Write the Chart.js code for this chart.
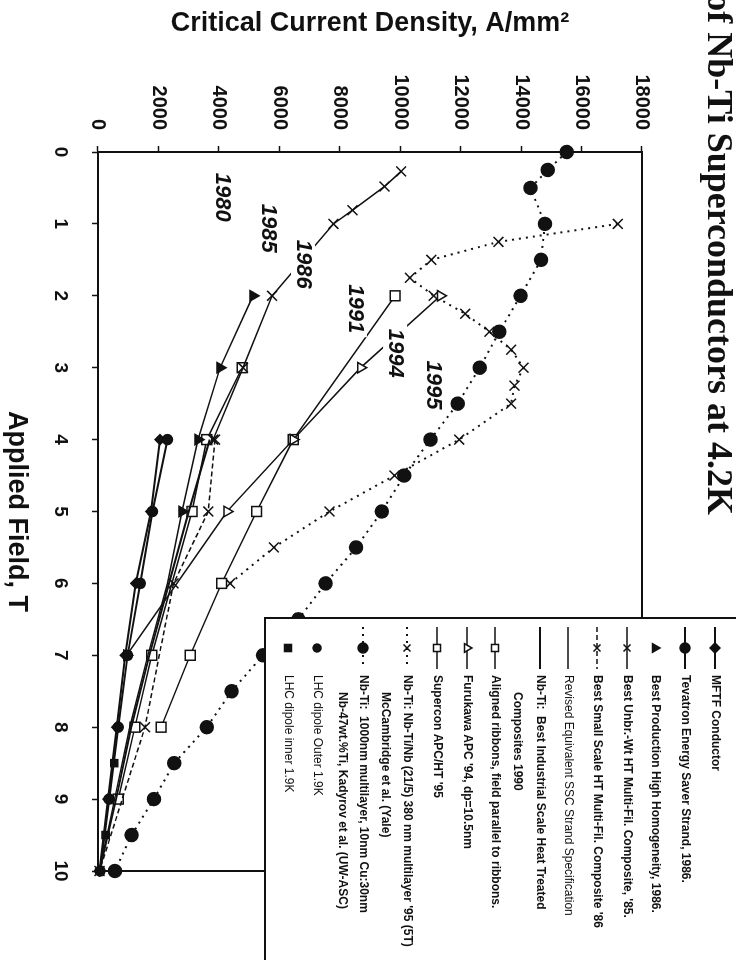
<!DOCTYPE html>
<html>
<head>
<meta charset="utf-8">
<title>Critical Current Density of Nb-Ti Superconductors at 4.2K</title>
<script src="https://cdn.jsdelivr.net/npm/chart.js@4.4.1/dist/chart.umd.min.js"></script>
<style>
  html, body { margin: 0; padding: 0; background: #fff; overflow: hidden; }
  /* the chart is drawn upright, then turned a quarter clockwise like the scan */
  #wrap { position: absolute; left: 0; top: 0; width: 960px; height: 736px;
          transform-origin: 0 0; transform: translate(736px, 0) rotate(90deg); }
</style>
</head>
<body>
<div id="wrap"><canvas id="chart" width="960" height="736"></canvas></div>
<script>
// ---- data (field in T, Jc in A/mm2) ----
var mftfB = [4, 5, 6, 7, 8, 9, 10];
var mftfJc = [2050, 1750, 1250, 900, 620, 330, 50];

var tevB = [4, 5, 6, 7, 8, 9, 10];
var tevJc = [2300, 1800, 1400, 980, 670, 370, 70];

var prodB = [2, 3, 4, 5];
var prodJc = [5130, 4040, 3310, 2780];

var unbrB = [0.27, 0.48, 0.81, 1, 2, 3, 4];
var unbrJc = [10030, 9480, 8420, 7790, 5760, 4800, 3810];

var smallB = [4, 5, 6, 8, 10];
var smallJc = [3870, 3650, 2500, 1555, 50];

var sscB = [2, 3, 4, 5, 6, 7, 8, 9, 10];
var sscJc = [5130, 4040, 3310, 2780, 2300, 1650, 1050, 550, 50];

var indB = [4, 5, 6, 7, 8, 9, 10];
var indJc = [3700, 3000, 2350, 1700, 1100, 600, 50];

var ribB = [3, 4, 5, 7, 8, 9];
var ribJc = [4770, 3600, 3110, 1780, 1220, 670];

var furB = [2, 3, 4, 5, 7];
var furJc = [11330, 8690, 6460, 4270, 950];

var supB = [2, 4, 5, 6, 7, 8];
var supJc = [9830, 6460, 5250, 4090, 3050, 2090];

var mccB = [1, 1.25, 1.5, 1.75, 2, 2.25, 2.5, 2.75, 3, 3.25, 3.5, 4, 4.5, 5, 5.5, 6];
var mccJc = [17200, 13250, 11030, 10320, 11110, 12150, 12950, 13670, 14080, 13780, 13670, 11950, 9810, 7660, 5820, 4370];

var kadB = [0, 0.25, 0.5, 1, 1.5, 2, 2.5, 3, 3.5, 4, 4.5, 5, 5.5, 6, 6.5, 7, 7.5, 8, 8.5, 9, 9.5, 10];
var kadJc = [15510, 14880, 14310, 14790, 14660, 13980, 13280, 12630, 11900, 11000, 10130, 9390, 8540, 7530, 6630, 5460, 4420, 3600, 2520, 1850, 1110, 560];

var lhcOutB = [9, 10];
var lhcOutJc = [364, 66];

var lhcInB = [8.5, 9.5];
var lhcInJc = [540, 253];

// year notes: [text, field, Jc]
var yearNotes = [
  ['1980', 0.63, 4100],
  ['1985', 1.06, 5625],
  ['1986', 1.56, 6784],
  ['1991', 2.18, 8500],
  ['1994', 2.80, 9830],
  ['1995', 3.24, 11090]
];

var fieldLabel = 'Applied Field, T';
var jcLabel = 'Critical Current Density, A/mm\u00b2';
var titleText = 'of Nb-Ti Superconductors at 4.2K';

var ink = '#111';

function pts(bs, js) {
  var out = [];
  for (var i = 0; i < bs.length; i++) out.push({x: bs[i], y: js[i]});
  return out;
}

function series(lines, bs, js, opt) {
  var d = {
    label: lines.join(' '),
    legendLines: lines,
    data: pts(bs, js),
    showLine: opt.line !== false,
    borderColor: ink,
    backgroundColor: opt.open ? '#fff' : ink,
    borderWidth: opt.width || 1.5,
    borderDash: opt.dash || [],
    pointStyle: opt.style || 'circle',
    pointRadius: opt.r === undefined ? 5 : opt.r,
    pointBorderColor: ink,
    pointBackgroundColor: opt.open ? '#fff' : ink,
    pointBorderWidth: 1.5,
    clip: false
  };
  return d;
}

var datasets = [
  series(['MFTF Conductor'], mftfB, mftfJc, {style: 'rectRot', r: 5, width: 2}),
  series(['Tevatron Energy Saver Strand, 1986.'], tevB, tevJc, {style: 'circle', r: 5, width: 2}),
  series(['Best Production High Homogeneity, 1986.'], prodB, prodJc, {style: 'triangle', r: 6, line: false}),
  series(['Best Unbr.-Wt HT Multi-Fil. Composite, \'85.'], unbrB, unbrJc, {style: 'crossRot', r: 7}),
  series(['Best Small Scale HT Multi-Fil. Composite \'86'], smallB, smallJc, {style: 'crossRot', r: 7, dash: [5, 3]}),
  series(['Revised Equivalent SSC Strand Specification'], sscB, sscJc, {r: 0}),
  series(['Nb-Ti:  Best Industrial Scale Heat Treated', 'Composites 1990'], indB, indJc, {r: 0, width: 2}),
  series(['Aligned ribbons, field parallel to ribbons.'], ribB, ribJc, {style: 'rect', r: 7, open: true}),
  series(['Furukawa APC \'94, dp=10.5nm'], furB, furJc, {style: 'triangle', r: 6, open: true}),
  series(['Supercon APC/HT \'95'], supB, supJc, {style: 'rect', r: 7, open: true}),
  series(['Nb-Ti: Nb-Ti/Nb (21/5) 380 nm multilayer \'95 (5T)', 'McCambridge et al. (Yale)'], mccB, mccJc, {style: 'crossRot', r: 7, dash: [2, 5], width: 2}),
  series(['Nb-Ti:  1000nm multilayer, 10nm Cu:30nm', 'Nb-47wt.%Ti, Kadyrov et al. (UW-ASC)'], kadB, kadJc, {style: 'circle', r: 6.5, dash: [2, 5], width: 2}),
  series(['LHC dipole Outer 1.9K'], lhcOutB, lhcOutJc, {style: 'circle', r: 4, line: false}),
  series(['LHC dipole inner 1.9K'], lhcInB, lhcInJc, {style: 'rect', r: 5, line: false})
];

// where each legend text line sits (distance from the top edge), and line indents
var legendRows = [[21], [51], [81], [109], [139], [168], [196, 219], [241], [269], [299], [329, 351], [373, 394], [419], [448]];
var legendIndent = [0, 17];

var frame = {
  id: 'frame',
  beforeDatasetsDraw: function (chart) {
    var a = chart.chartArea, ctx = chart.ctx;
    ctx.save();
    ctx.strokeStyle = ink;
    ctx.lineWidth = 2;
    ctx.strokeRect(a.left, a.top, a.right - a.left, a.bottom - a.top);
    ctx.restore();
  }
};

var notes = {
  id: 'notes',
  afterDatasetsDraw: function (chart) {
    var ctx = chart.ctx, xs = chart.scales.x, ys = chart.scales.y;
    ctx.save();
    ctx.font = 'italic bold 22px "Liberation Sans", Arial, sans-serif';
    ctx.textAlign = 'center';
    ctx.textBaseline = 'middle';
    yearNotes.forEach(function (n) {
      var px = xs.getPixelForValue(n[1]), py = ys.getPixelForValue(n[2]);
      var w = ctx.measureText(n[0]).width;
      ctx.fillStyle = '#fff';
      ctx.fillRect(px - w / 2 - 4, py - 12, w + 8, 24);
      ctx.fillStyle = ink;
      ctx.fillText(n[0], px, py);
    });
    ctx.restore();
  }
};

var heading = {
  id: 'heading',
  afterDraw: function (chart) {
    var ctx = chart.ctx;
    ctx.save();
    ctx.font = 'bold 36px "Liberation Serif", "Times New Roman", serif';
    ctx.fillStyle = ink;
    ctx.textAlign = 'right';
    ctx.textBaseline = 'alphabetic';
    ctx.fillText(titleText, 515, 28);
    ctx.restore();
  }
};

var legendBox = {
  id: 'legendBox',
  afterDraw: function (chart) {
    var ctx = chart.ctx;
    var left = 618, bottom = 471, right = chart.width + 10;
    ctx.save();
    ctx.fillStyle = '#fff';
    ctx.fillRect(left, -5, right - left, bottom + 5);
    ctx.strokeStyle = ink;
    ctx.lineWidth = 2;
    ctx.beginPath();
    ctx.moveTo(left, 0);
    ctx.lineTo(left, bottom);
    ctx.lineTo(right, bottom);
    ctx.stroke();

    chart.data.datasets.forEach(function (d, i) {
      var rows = legendRows[i];
      var y = rows[0];
      if (d.showLine) {
        ctx.save();
        ctx.lineWidth = d.borderWidth;
        ctx.setLineDash(d.borderDash);
        ctx.beginPath();
        ctx.moveTo(627, y);
        ctx.lineTo(669, y);
        ctx.stroke();
        ctx.restore();
      }
      if (d.pointRadius > 0) {
        ctx.save();
        ctx.fillStyle = d.pointBackgroundColor;
        ctx.strokeStyle = ink;
        ctx.lineWidth = 1.5;
        Chart.helpers.drawPoint(ctx, {pointStyle: d.pointStyle, radius: Math.min(d.pointRadius, 5), borderWidth: 1.5, rotation: 0}, 648, y);
        ctx.restore();
      }
      var plain = d.legendLines[0].indexOf('Revised') === 0 || d.legendLines[0].indexOf('LHC') === 0;
      ctx.font = (plain ? '' : 'bold ') + '12px "Liberation Sans", Arial, sans-serif';
      ctx.fillStyle = ink;
      ctx.textAlign = 'left';
      ctx.textBaseline = 'middle';
      d.legendLines.forEach(function (t, k) {
        ctx.fillText(t, 675 + legendIndent[k], rows[k]);
      });
    });
    ctx.restore();
  }
};

Chart.defaults.font.family = '"Liberation Sans", Arial, sans-serif';
Chart.defaults.color = ink;

var chart = new Chart(document.getElementById('chart'), {
  type: 'scatter',
  data: {datasets: datasets},
  options: {
    responsive: false,
    devicePixelRatio: 1,
    animation: false,
    layout: {padding: {top: 94, right: 89, left: 0, bottom: 0}},
    plugins: {legend: {display: false}, tooltip: {enabled: false}},
    scales: {
      x: {
        type: 'linear', position: 'bottom', min: 0, max: 10,
        afterFit: function (s) { s.height = 98; },
        ticks: {stepSize: 1, padding: 20, color: ink, font: {size: 19, weight: 'bold'},
                callback: function (v) { return String(v); }},
        grid: {drawOnChartArea: false, color: ink, tickLength: 6, tickWidth: 1.5},
        border: {color: ink, width: 2},
        title: {display: true, text: fieldLabel, color: ink, font: {size: 27, weight: 'bold'}, padding: {top: 0, bottom: 0}}
      },
      y: {
        type: 'linear', position: 'left', min: 0, max: 18000,
        afterFit: function (s) { s.width = 152; },
        ticks: {stepSize: 2000, padding: 16, color: ink, font: {size: 20, weight: 'bold'},
                callback: function (v) { return String(v); }},
        grid: {drawOnChartArea: false, color: ink, tickLength: 6, tickWidth: 1.5},
        border: {color: ink, width: 2},
        title: {display: true, text: jcLabel, color: ink, font: {size: 27, weight: 'bold'}, padding: {top: 7, bottom: 0}}
      }
    }
  },
  plugins: [frame, notes, heading, legendBox]
});
</script>
</body>
</html>
